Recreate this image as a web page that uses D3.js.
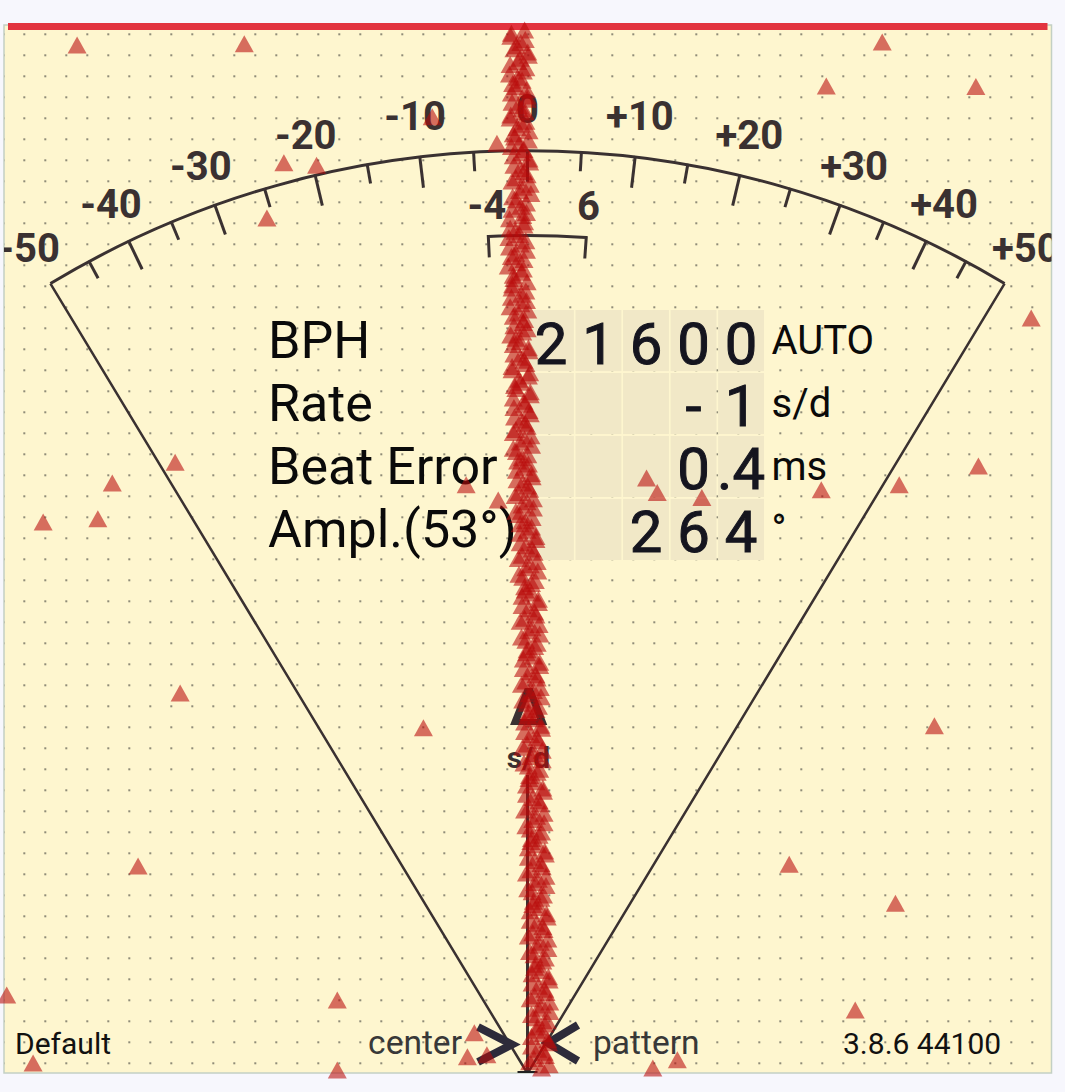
<!DOCTYPE html>
<html><head><meta charset="utf-8">
<script src="https://cdn.jsdelivr.net/npm/d3@7"></script>
<style>
html,body{margin:0;padding:0;background:#f7f7fd;}
svg{display:block;font-family:Roboto,"Noto Sans",sans-serif;}
</style>
</head><body>
<svg id="chart" width="1065" height="1092"></svg>
<script>
// ---------------- DATA ----------------
const gaugeTickValues = [-50,-45,-40,-35,-30,-25,-20,-15,-10,-5,0,5,10,15,20,25,30,35,40,45,50];
const gaugeLabelValues = [-50,-40,-30,-20,-10,0,10,20,30,40,50];
const gaugeLabelTexts = ["-50","-40","-30","-20","-10","0","+10","+20","+30","+40","+50"];
const gaugeAngleDeg = [-31.13,-25.6,-19.8,-13.3,-6.7,0,6.7,13.3,19.8,25.6,31.13];
const toleranceValues = [-4, 6];
const toleranceTexts = ["-4", "6"];

const readoutLabels = ["BPH","Rate","Beat Error","Ampl.(53°)"];
const readoutDigits = [
  ["2","1","6","0","0"],
  ["","","","-","1"],
  ["","","","0",".4"],
  ["","","2","6","4"]
];
const readoutUnits = ["AUTO","s/d","ms","°"];

const footerLeft = "Default";
const footerCenterLeft = "center";
const footerCenterRight = "pattern";
const footerRight = "3.8.6 44100";
const rateUnitSymbol = "Δ";
const rateUnitText = "s/d";

// tic timing offsets (ms), one per beat from the top of the strip
const ticOffsetsMs = [
 -0.5,-2.7,-1.1,-2.2,0.1,-1.6,-0.3,-2.9,-0.9,-1.9,
 -2.6,-0.1,-1.5,-0.4,-2.8,-1.0,0.2,-2.1,-1.3,-0.6,
 -2.3,0.3,-1.2,-0.1,-2.5,-0.7,0.5,-1.8,-1.1,-0.2,
 -2.9,-0.6,-2.0,-3.0,-1.2,-0.2,-2.6,-1.7,-0.7,-2.3,
 -0.1,-2.5,-1.0,-0.2,-2.8,-1.5,-0.5,-2.2,-0.8,-1.9,
 -2.3,0.2,-1.2,-0.3,-2.5,0.1,-1.1,-1.9,0.4,-0.6,
 -2.2,0.4,-1.0,-0.1,-2.3,-0.5,0.6,-1.8,-0.9,0.1,
 -1.8,0.7,-0.8,0.3,-2.0,-0.1,0.9,-1.3,-0.4,0.6,
 -1.2,1.3,-0.3,1.0,-1.5,0.4,1.6,-0.8,0.6,-0.4,
 -0.9,1.7,0.1,1.3,-1.2,0.7,1.9,-0.3,1.1,-0.2,
 -0.7,1.9,0.3,1.5,-1.0,0.9,2.1,-0.1,1.3,0.0,
 -0.5,2.2,0.5,1.7,-0.8,1.1,2.3,0.1,1.5,0.2,
 -0.2,2.5,0.8,2.0,-0.5,1.4,2.6,0.4,1.8,0.5,
 0.1,2.8,1.1,2.3,-0.2,1.7,2.9,0.7,2.1,0.8,
 0.4,3.1,1.4,2.6,0.1,2.0,3.2,1.0,2.4,1.1,
 0.7,3.4,1.7,2.9,0.4,2.3,3.5,1.3,2.7,1.4,
 0.6,3.3,1.6,2.8,0.3,2.2
];
// toc timing offsets (ms), half a beat after each tic
const tocOffsetsMs = [
 -2.6,-0.4,-1.8,0.0,-1.2,-2.8,-0.7,-1.6,-2.4,-0.2,
 -0.1,-2.5,-0.9,-2.7,-0.3,-1.7,-2.3,0.1,-2.6,-1.0,
 0.2,-2.2,-0.6,-1.9,0.4,-1.3,-2.4,-0.2,-2.5,-0.8,
 -0.5,-2.8,-1.3,-0.3,-2.9,-1.9,-0.6,-3.1,-1.0,-2.2,
 -2.4,-0.3,-2.6,-1.1,0.0,-2.3,-0.7,-0.1,-2.7,-1.2,
 0.1,-2.2,-0.6,-2.5,0.3,-1.4,-2.1,0.4,-2.3,-0.5,
 0.2,-2.1,-0.4,-1.9,0.5,-1.2,-2.3,0.0,-1.6,-0.6,
 0.6,-1.7,0.0,-1.4,0.9,-0.9,-1.9,0.7,-1.2,-0.1,
 1.3,-1.2,0.7,-0.9,1.5,-0.3,-1.4,1.2,-0.5,0.6,
 1.7,-0.9,1.1,-0.5,1.8,0.1,-1.0,1.5,-0.1,0.9,
 1.9,-0.7,1.3,-0.3,2.0,0.3,-0.8,1.7,0.1,1.1,
 2.1,-0.5,1.5,-0.1,2.3,0.5,-0.6,1.9,0.3,1.3,
 2.4,-0.2,1.8,0.2,2.6,0.8,-0.3,2.2,0.6,1.6,
 2.7,0.1,2.1,0.5,2.9,1.1,0.0,2.5,0.9,1.9,
 3.0,0.4,2.4,0.8,3.2,1.4,0.3,2.8,1.2,2.2,
 3.3,0.7,2.7,1.1,3.5,1.7,0.6,3.1,1.5,2.5,
 3.2,0.6,2.6,1.0,3.4
];

// stray (noise) detections: offset ms and beat index
const noiseOffsetsMs = [-71.7,-45.1,56.4,47.5,71.3,-38.8,-33.6,-41.5,80.1,-56.1,
  -66.1,-77.1,-68.4,71.7,59.1,46.7,18.9,20.6,27.7,-9.8,
  -4.7,-55.3,-16.6,64.7,-62.0,41.6,58.5,-82.9,-30.3,52.1,
  -78.7,-30.3,19.9,23.8,-8.5,-9.6,-6.5,-4.9,-15.2];
const noiseBeats = [2.4,2.2,1.9,8.9,9.0,21.1,21.5,29.9,45.8,68.7,
  72.0,78.2,77.7,69.3,72.3,73.1,71.2,73.5,74.3,72.3,
  74.7,105.4,110.9,110.6,132.9,132.6,138.8,153.4,154.2,155.8,
  164.2,165.3,165.0,163.7,159.4,163.2,162.9,18.0,13.8];

// ---------------- LAYOUT ----------------
const panel = {x:4, y:25, w:1047.5, h:1048};
const cx = 527.5, cy = 1073.5, R = 922.8;
const ink = "#3a3131";
const svg = d3.select("#chart");

const defs = svg.append("defs");
defs.append("clipPath").attr("id","panelClip").append("rect")
  .attr("x",panel.x).attr("y",panel.y-5).attr("width",panel.w).attr("height",panel.h+5);

svg.append("rect").attr("x",panel.x).attr("y",panel.y).attr("width",panel.w).attr("height",panel.h)
  .attr("fill","#fef6cf").attr("stroke","#c3d0c4").attr("stroke-width",1.5);

const g = svg.append("g").attr("clip-path","url(#panelClip)");

// dotted grid
const dotX = d3.scaleLinear().domain([0,1]).range([3.3,24.3]);
const dotY = d3.scaleLinear().domain([0,1]).range([13.3,34.3]);
const dots = [];
d3.range(0,50).forEach(i => d3.range(1,51).forEach(j => dots.push([dotX(i), dotY(j)])));
g.append("g").selectAll("rect").data(dots).join("rect")
  .attr("x",d=>d[0]-1).attr("y",d=>d[1]-1).attr("width",2).attr("height",2)
  .attr("fill","#8f8c78");

// red top line
svg.append("rect").attr("x",8).attr("y",23).attr("width",1039.5).attr("height",7).attr("fill","#e2333f");

// readout cells
const colX = d3.scaleBand().domain(d3.range(5)).range([528,764]).paddingInner(0.035);
const rowY = d3.scaleBand().domain(d3.range(4)).range([310,560]).paddingInner(0.03);
const cells = [];
readoutDigits.forEach((row,r)=>row.forEach((d,c)=>cells.push({r,c,d})));
g.append("g").selectAll("rect").data(cells).join("rect")
  .attr("x",d=>colX(d.c)).attr("y",d=>rowY(d.r)).attr("width",colX.bandwidth()).attr("height",rowY.bandwidth())
  .attr("fill","#f1e8c7");

// gauge
const angleScale = d3.scaleLinear().domain(gaugeLabelValues).range(gaugeAngleDeg);
const rad = d => d*Math.PI/180;
const pt = (v,r) => { const a = rad(angleScale(v)); return [cx + r*Math.sin(a), cy - r*Math.cos(a)]; };

const arcPath = d3.path();
arcPath.arc(cx, cy, R, rad(angleScale(-50)-90), rad(angleScale(50)-90), false);
g.append("path").attr("d",arcPath.toString()).attr("fill","none").attr("stroke",ink).attr("stroke-width",3);

const fan = d3.path();
const pL = pt(-50,R), pR = pt(50,R);
fan.moveTo(pL[0],pL[1]); fan.lineTo(cx,cy); fan.lineTo(pR[0],pR[1]);
g.append("path").attr("d",fan.toString()).attr("fill","none").attr("stroke",ink).attr("stroke-width",2.5);

g.append("g").selectAll("line").data(gaugeTickValues.filter(v=>Math.abs(v)!==50)).join("line")
  .each(function(v){
    const len = (v % 10 === 0) ? 31 : 19;
    const a = pt(v,R+1), b = pt(v,R-len);
    d3.select(this).attr("x1",a[0]).attr("y1",a[1]).attr("x2",b[0]).attr("y2",b[1]);
  })
  .attr("stroke",ink).attr("stroke-width",3);

g.append("g").selectAll("text").data(gaugeLabelValues).join("text")
  .attr("x",v=>pt(v,964)[0]).attr("y",v=>pt(v,964)[1])
  .attr("text-anchor","middle").attr("dominant-baseline","central")
  .attr("font-size",40).attr("font-weight","bold").attr("fill",ink)
  .text((v,i)=>gaugeLabelTexts[i]);

// tolerance bracket
const br = d3.path();
const rB = 838, rBi = 817;
const t0o = pt(toleranceValues[0],rBi), t0 = pt(toleranceValues[0],rB);
const t1o = pt(toleranceValues[1],rBi);
br.moveTo(t0o[0],t0o[1]); br.lineTo(t0[0],t0[1]);
br.arc(cx,cy,rB, rad(angleScale(toleranceValues[0])-90), rad(angleScale(toleranceValues[1])-90), false);
br.lineTo(t1o[0],t1o[1]);
g.append("path").attr("d",br.toString()).attr("fill","none").attr("stroke",ink).attr("stroke-width",3);
g.append("g").selectAll("text").data(toleranceValues).join("text")
  .attr("x",v=>pt(v,869)[0]).attr("y",v=>pt(v,869)[1])
  .attr("text-anchor","middle").attr("dominant-baseline","central")
  .attr("font-size",40).attr("font-weight","bold").attr("fill",ink)
  .text((v,i)=>toleranceTexts[i]);

// needle
g.append("line").attr("x1",cx).attr("x2",cx).attr("y1",775).attr("y2",cy).attr("stroke",ink).attr("stroke-width",3);
g.append("line").attr("x1",cx-10).attr("x2",cx+10).attr("y1",cy-1).attr("y2",cy-1).attr("stroke","#222").attr("stroke-width",3);

// Δ s/d
g.append("text").attr("x",cx+1).attr("y",725).attr("text-anchor","middle")
  .attr("font-size",52).attr("font-weight","bold").attr("fill",ink).text(rateUnitSymbol);
g.append("text").attr("x",cx+1).attr("y",768).attr("text-anchor","middle")
  .attr("font-size",30).attr("font-weight","bold").attr("fill",ink).text(rateUnitText);

// readout labels
const baseY = d3.scaleLinear().domain([0,3]).range([357.5,547]);
g.append("g").selectAll("text").data(readoutLabels).join("text")
  .attr("x",268).attr("y",(d,i)=>baseY(i)).attr("font-size",52).attr("fill","#0a0a0a").text(d=>d);
g.append("g").selectAll("text").data(cells.filter(d=>d.d!=="")).join("text")
  .attr("x",d=>colX(d.c)+colX.bandwidth()/2).attr("y",d=>rowY(d.r)+53.5)
  .attr("text-anchor","middle").attr("font-size",58).attr("fill","#15151f")
  .attr("stroke","#15151f").attr("stroke-width",1).text(d=>d.d);
const unitY = d3.scaleLinear().domain([0,3]).range([353.5,543]);
g.append("g").selectAll("text").data(readoutUnits).join("text")
  .attr("x",771.5).attr("y",(d,i)=>unitY(i)).attr("font-size",40).attr("fill","#0a0a0a").text(d=>d);

// footer
g.append("text").attr("x",15).attr("y",1053.5).attr("font-size",30).attr("fill","#111").text(footerLeft);
g.append("text").attr("x",462).attr("y",1053.5).attr("text-anchor","end").attr("font-size",33.5).attr("fill","#383838").text(footerCenterLeft);
g.append("text").attr("x",593).attr("y",1053.5).attr("font-size",33.5).attr("fill","#383838").text(footerCenterRight);
g.append("text").attr("x",843).attr("y",1053.5).attr("font-size",30).attr("fill","#111").text(footerRight);

// chevrons
g.append("polyline").attr("points","478,1027 512,1044.5 478,1062").attr("fill","none")
  .attr("stroke","#2d2b3a").attr("stroke-width",8).attr("stroke-linejoin","miter");
g.append("polyline").attr("points","578,1025 548,1043 578,1061").attr("fill","none")
  .attr("stroke","#2d2b3a").attr("stroke-width",8).attr("stroke-linejoin","miter");

// ---------------- TRACE ----------------
const xMs = d3.scaleLinear().domain([-83.33,83.33]).range([panel.x, panel.x+panel.w]);
const yBeat = d3.scaleLinear().domain([0,165]).range([30,1068]);
const triPath = (x,y) => `M${x},${y-8.5}L${x+9.5},${y+8.5}L${x-9.5},${y+8.5}Z`;
const fillTri = "rgba(185,10,10,0.58)";
const trace = svg.append("g");
const noise = noiseOffsetsMs.map((m,i)=>[m, noiseBeats[i]]);
trace.selectAll("path.noise").data(noise).join("path").attr("class","noise")
  .attr("d",d=>triPath(xMs(d[0]), yBeat(d[1]))).attr("fill",fillTri);
trace.selectAll("path.tic").data(ticOffsetsMs).join("path").attr("class","tic")
  .attr("d",(d,i)=>triPath(xMs(d), yBeat(i))).attr("fill",fillTri);
trace.selectAll("path.toc").data(tocOffsetsMs).join("path").attr("class","toc")
  .attr("d",(d,i)=>triPath(xMs(d), yBeat(i+0.5))).attr("fill",fillTri);
</script>
</body></html>
